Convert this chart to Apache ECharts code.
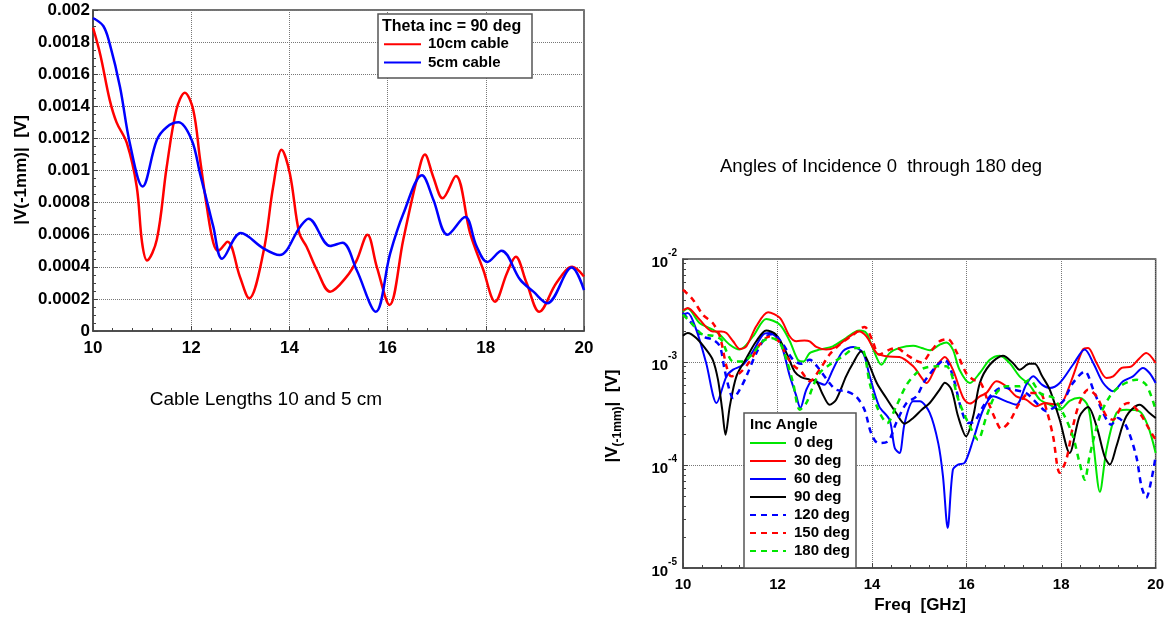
<!DOCTYPE html>
<html><head><meta charset="utf-8">
<script src="https://cdn.jsdelivr.net/npm/echarts@6/dist/echarts.min.js"></script>
<style>html,body{margin:0;padding:0;background:#fff}#c{width:1167px;height:618px}</style>
</head><body><div id="c"></div>
<script>
// ---------- Left chart: Theta inc = 90 deg ----------
const leftXTicks = ['10','12','14','16','18','20'];
const leftYTickLabels = ['0','0.0002','0.0004','0.0006','0.0008','0.001','0.0012','0.0014','0.0016','0.0018','0.002'];
const cable10 = [[10,0.00189],[10.15,0.00172],[10.34,0.00144],[10.48,0.0013],[10.69,0.00117],[10.89,0.0009],[11.0,0.00055],[11.1,0.00044],[11.3,0.00057],[11.5,0.00102],[11.7,0.00138],[11.87,0.001485],[12.04,0.00138],[12.18,0.00107],[12.32,0.00077],[12.45,0.00055],[12.55,0.0005],[12.74,0.000556],[12.99,0.00034],[13.18,0.000204],[13.47,0.00049],[13.67,0.0009],[13.84,0.00113],[14.01,0.00098],[14.2,0.00061],[14.35,0.000525],[14.56,0.00038],[14.83,0.000245],[15.17,0.00034],[15.37,0.00044],[15.59,0.0006],[15.78,0.0004],[16.04,0.000162],[16.32,0.00057],[16.59,0.00094],[16.76,0.0011],[16.93,0.00096],[17.12,0.000827],[17.39,0.000966],[17.68,0.00061],[17.95,0.00038],[18.19,0.000183],[18.43,0.00036],[18.61,0.000463],[18.83,0.0003],[19.09,0.00012],[19.44,0.0003],[19.76,0.0004],[20.0,0.00034]];
const cable5 = [[10,0.00195],[10.21,0.0019],[10.34,0.00179],[10.55,0.00152],[10.75,0.00117],[11.01,0.0009],[11.3,0.00119],[11.5,0.00127],[11.74,0.0013],[12.01,0.00119],[12.18,0.00098],[12.32,0.00081],[12.45,0.00065],[12.63,0.00045],[13.01,0.00061],[13.47,0.000515],[13.8,0.000473],[14.22,0.00065],[14.39,0.0007],[14.83,0.00053],[15.08,0.00055],[15.37,0.00038],[15.76,0.00012],[16.05,0.00048],[16.32,0.00073],[16.7,0.00097],[16.93,0.00082],[17.22,0.0006],[17.58,0.00071],[17.81,0.00053],[18.03,0.00043],[18.32,0.0005],[18.7,0.00032],[18.97,0.000245],[19.25,0.000173],[19.75,0.000395],[20.0,0.000255]];

// ---------- Right chart: angles of incidence ----------
const rightXTicks = ['10','12','14','16','18','20'];
const rightYExponents = ['-5','-4','-3','-2'];
const deg0 = [[10,3.1e-3],[10.1,3.3e-3],[10.35,2.39e-3],[10.63,2.06e-3],[10.78,1.84e-3],[10.99,1.47e-3],[11.2,1.32e-3],[11.48,1.77e-3],[11.76,2.62e-3],[12.05,2.3e-3],[12.26,1.59e-3],[12.43,1.05e-3],[12.55,1.01e-3],[12.68,1.22e-3],[12.89,1.32e-3],[13.17,1.42e-3],[13.45,1.71e-3],[13.73,2.02e-3],[13.88,1.91e-3],[14.0,1.42e-3],[14.2,9.4e-4],[14.37,1.22e-3],[14.58,1.37e-3],[14.87,1.44e-3],[15.05,1.37e-3],[15.22,1.3e-3],[15.43,1.47e-3],[15.57,1.55e-3],[15.71,1.32e-3],[15.85,8.42e-4],[16.07,6.25e-4],[16.28,7.82e-4],[16.49,1.05e-3],[16.7,1.15e-3],[16.91,9.78e-4],[17.12,7.26e-4],[17.33,6.0e-4],[17.55,4.31e-4],[17.76,3.85e-4],[17.97,3.44e-4],[18.18,4.2e-4],[18.39,4.5e-4],[18.57,3.71e-4],[18.68,1.63e-4],[18.82,5.5e-5],[18.96,1.41e-4],[19.17,3.2e-4],[19.38,3.44e-4],[19.66,3.32e-4],[19.84,2.37e-4],[20.0,1.31e-4]];
const deg30 = [[10,3.17e-3],[10.1,3.35e-3],[10.35,2.58e-3],[10.63,1.98e-3],[10.81,1.98e-3],[10.92,1.91e-3],[11.06,1.59e-3],[11.2,1.34e-3],[11.34,1.42e-3],[11.55,2.22e-3],[11.8,3.04e-3],[12.05,2.68e-3],[12.26,1.77e-3],[12.4,1.59e-3],[12.57,1.62e-3],[12.68,1.59e-3],[12.82,1.4e-3],[13.03,1.32e-3],[13.24,1.4e-3],[13.45,1.67e-3],[13.73,1.98e-3],[13.88,1.77e-3],[14.1,1.22e-3],[14.3,1.135e-3],[14.58,1.12e-3],[14.87,9.08e-4],[15.05,7.0e-4],[15.15,6.25e-4],[15.36,9.08e-4],[15.54,1.12e-3],[15.71,8.42e-4],[15.93,4.47e-4],[16.07,3.95e-4],[16.28,4.64e-4],[16.42,5.0e-4],[16.63,6.5e-4],[16.84,5.8e-4],[17.05,4.64e-4],[17.26,4.31e-4],[17.48,3.71e-4],[17.65,4.0e-4],[17.9,3.85e-4],[18.04,4.15e-4],[18.25,7.26e-4],[18.46,1.32e-3],[18.57,1.37e-3],[18.75,9.78e-4],[18.96,7.0e-4],[19.1,7.26e-4],[19.28,8.75e-4],[19.49,9.08e-4],[19.66,1.09e-3],[19.8,1.22e-3],[20.0,9.78e-4]];
const deg60 = [[10,2.88e-3],[10.1,2.99e-3],[10.28,2.06e-3],[10.49,9.78e-4],[10.71,4.0e-4],[10.92,7.26e-4],[11.06,8.42e-4],[11.27,9.4e-4],[11.48,1.27e-3],[11.69,1.84e-3],[11.83,1.91e-3],[12.05,1.59e-3],[12.26,7.26e-4],[12.4,4.64e-4],[12.48,3.57e-4],[12.61,5.39e-4],[12.75,6.74e-4],[12.89,6.25e-4],[12.99,6.0e-4],[13.17,8.42e-4],[13.38,1.27e-3],[13.6,1.4e-3],[13.81,1.22e-3],[13.95,7.26e-4],[14.15,3.71e-4],[14.37,2.75e-4],[14.48,1.46e-4],[14.58,1.31e-4],[14.69,2.56e-4],[14.87,4.15e-4],[15.01,4.15e-4],[15.22,3.2e-4],[15.4,1.63e-4],[15.5,7.8e-5],[15.6,2.45e-5],[15.71,9.0e-5],[15.82,1.01e-4],[15.96,1.05e-4],[16.14,1.76e-4],[16.35,3.44e-4],[16.56,4.64e-4],[16.84,4.15e-4],[17.05,3.85e-4],[17.26,6.0e-4],[17.41,7.26e-4],[17.6,6.0e-4],[17.76,5.6e-4],[17.97,6.25e-4],[18.25,9.4e-4],[18.5,1.32e-3],[18.68,9.78e-4],[18.89,6.25e-4],[19.1,5.2e-4],[19.31,6.5e-4],[19.52,7.26e-4],[19.73,8.75e-4],[19.87,7.82e-4],[20.0,6.25e-4]];
const deg90 = [[10,1.8e-3],[10.1,1.91e-3],[10.28,1.71e-3],[10.49,1.32e-3],[10.63,1.05e-3],[10.74,6.74e-4],[10.83,3.44e-4],[10.9,1.97e-4],[10.99,3.71e-4],[11.13,7.26e-4],[11.34,1.09e-3],[11.55,1.59e-3],[11.76,2.02e-3],[11.97,1.84e-3],[12.19,1.22e-3],[12.36,8.1e-4],[12.5,7.15e-4],[12.68,6.74e-4],[12.82,6.5e-4],[12.96,4.82e-4],[13.1,3.85e-4],[13.24,4.31e-4],[13.45,7.26e-4],[13.6,9.78e-4],[13.77,1.27e-3],[13.88,1.09e-3],[14.1,6.25e-4],[14.3,4.47e-4],[14.51,3.2e-4],[14.69,2.52e-4],[14.87,2.86e-4],[15.05,3.44e-4],[15.22,4.0e-4],[15.43,5.39e-4],[15.54,6.3e-4],[15.68,5.39e-4],[15.82,2.97e-4],[15.99,1.9e-4],[16.14,2.97e-4],[16.28,6.25e-4],[16.49,9.4e-4],[16.77,1.15e-3],[16.98,9.78e-4],[17.12,8.42e-4],[17.33,9.6e-4],[17.44,9.6e-4],[17.6,7.26e-4],[17.76,5.39e-4],[17.97,2.75e-4],[18.18,1.31e-4],[18.39,2.97e-4],[18.57,3.65e-4],[18.75,2.37e-4],[18.92,1.21e-4],[19.03,1.01e-4],[19.17,1.52e-4],[19.38,2.97e-4],[19.66,3.85e-4],[19.87,3.2e-4],[20.0,2.86e-4]];
const deg120 = [[10,2.99e-3],[10.21,2.3e-3],[10.42,1.77e-3],[10.63,1.65e-3],[10.78,1.42e-3],[10.88,8.42e-4],[10.99,5.2e-4],[11.06,4.47e-4],[11.2,5.39e-4],[11.34,7.26e-4],[11.55,1.22e-3],[11.76,1.77e-3],[11.9,1.87e-3],[12.12,1.47e-3],[12.33,1.05e-3],[12.5,9.6e-4],[12.68,1.05e-3],[12.89,8.42e-4],[13.1,6.25e-4],[13.24,5.39e-4],[13.45,5.2e-4],[13.66,4.64e-4],[13.84,3.44e-4],[13.98,2.04e-4],[14.13,1.63e-4],[14.34,1.7e-4],[14.51,2.56e-4],[14.73,4.0e-4],[14.94,4.64e-4],[15.08,6.15e-4],[15.15,6.9e-4],[15.36,9.08e-4],[15.54,1.05e-3],[15.71,7.26e-4],[15.89,3.44e-4],[16.03,2.56e-4],[16.17,2.65e-4],[16.35,3.71e-4],[16.56,5.0e-4],[16.77,5.7e-4],[16.98,5.39e-4],[17.26,5.0e-4],[17.55,3.71e-4],[17.69,3.32e-4],[17.83,3.57e-4],[18.04,4.15e-4],[18.25,6.25e-4],[18.5,8.1e-4],[18.68,5.39e-4],[18.89,3.2e-4],[19.06,2.46e-4],[19.2,2.86e-4],[19.38,2.37e-4],[19.59,1.21e-4],[19.7,6.2e-5],[19.8,4.8e-5],[19.91,7.2e-5],[20.0,1.21e-4]];
const deg150 = [[10,5.04e-3],[10.21,4.03e-3],[10.42,2.88e-3],[10.63,2.39e-3],[10.78,1.77e-3],[10.92,9.08e-4],[11.02,7.26e-4],[11.2,7.82e-4],[11.41,1.01e-3],[11.62,1.47e-3],[11.83,1.77e-3],[12.05,1.55e-3],[12.19,1.135e-3],[12.36,9.08e-4],[12.5,8.1e-4],[12.68,6.5e-4],[12.89,8.42e-4],[13.1,1.18e-3],[13.31,1.47e-3],[13.6,1.84e-3],[13.84,2.19e-3],[14.0,1.65e-3],[14.15,1.18e-3],[14.37,1.32e-3],[14.51,1.37e-3],[14.73,1.18e-3],[14.9,1.05e-3],[15.05,9.9e-4],[15.22,1.22e-3],[15.43,1.59e-3],[15.6,1.67e-3],[15.78,1.27e-3],[15.99,7.82e-4],[16.14,6.74e-4],[16.3,6.25e-4],[16.45,4.15e-4],[16.63,2.65e-4],[16.73,2.24e-4],[16.91,2.65e-4],[17.12,4.0e-4],[17.33,5.0e-4],[17.55,5.0e-4],[17.69,3.44e-4],[17.83,1.9e-4],[17.97,8.4e-5],[18.11,1.13e-4],[18.25,2.37e-4],[18.39,4.0e-4],[18.57,5.39e-4],[18.75,4.64e-4],[18.96,2.97e-4],[19.1,2.75e-4],[19.28,3.71e-4],[19.42,4.0e-4],[19.66,3.2e-4],[19.87,2.2e-4],[20.0,1.76e-4]];
const deg180 = [[10,2.88e-3],[10.21,2.3e-3],[10.42,1.84e-3],[10.63,1.8e-3],[10.81,1.65e-3],[10.92,1.27e-3],[11.06,1.01e-3],[11.27,1.01e-3],[11.48,1.22e-3],[11.69,1.59e-3],[11.87,1.71e-3],[12.05,1.53e-3],[12.19,1.05e-3],[12.33,6.25e-4],[12.47,3.44e-4],[12.61,4.0e-4],[12.75,5.8e-4],[12.89,7.82e-4],[13.1,9.4e-4],[13.38,1.135e-3],[13.66,1.37e-3],[13.81,1.32e-3],[13.95,6.25e-4],[14.13,3.44e-4],[14.32,2.56e-4],[14.51,3.71e-4],[14.73,6.0e-4],[14.94,7.82e-4],[15.11,8.75e-4],[15.36,9.08e-4],[15.57,9.08e-4],[15.85,4.0e-4],[16.07,2.37e-4],[16.24,1.76e-4],[16.42,2.97e-4],[16.63,5.0e-4],[16.84,5.8e-4],[17.12,5.8e-4],[17.33,6.74e-4],[17.55,5.0e-4],[17.69,4.7e-4],[17.83,4.5e-4],[18.04,3.2e-4],[18.25,1.9e-4],[18.39,1.05e-4],[18.5,7.2e-5],[18.6,1.21e-4],[18.82,2.97e-4],[19.03,4.64e-4],[19.24,5.8e-4],[19.45,6.5e-4],[19.59,6.74e-4],[19.8,6.0e-4],[20.0,3.44e-4]];

const FONT = 'Liberation Sans, Arial, Helvetica, sans-serif';
const chart = echarts.init(document.getElementById('c'), null, {renderer: 'canvas'});

const frame = '#444';
function xAxisCfg(gi, fs, labels) {
  return {
    type: 'value', gridIndex: gi, min: 10, max: 20, interval: 2,
    axisLine: {show: true, onZero: false, lineStyle: {color: frame, width: 1.5}},
    axisTick: {show: true, inside: true, length: 5, lineStyle: {color: frame}},
    minorTick: {show: true, splitNumber: 5, length: 3, lineStyle: {color: frame}},
    splitLine: {show: true, lineStyle: {type: 'dotted', color: '#777', width: 1}},
    axisLabel: {fontFamily: FONT, fontSize: fs, fontWeight: 'bold', color: '#000', margin: 9,
      formatter: v => labels[Math.round((v - 10) / 2)]}
  };
}

const rightSeriesDefs = [
  {name: '0 deg', data: deg0, color: '#00e600', type: 'solid'},
  {name: '30 deg', data: deg30, color: '#ff0000', type: 'solid'},
  {name: '60 deg', data: deg60, color: '#0000ff', type: 'solid'},
  {name: '90 deg', data: deg90, color: '#000000', type: 'solid'},
  {name: '120 deg', data: deg120, color: '#0000ff', type: [6, 5]},
  {name: '150 deg', data: deg150, color: '#ff0000', type: [6, 5]},
  {name: '180 deg', data: deg180, color: '#00e600', type: [6, 5]}
];

const series = [
  {name: '10cm cable', type: 'line', xAxisIndex: 0, yAxisIndex: 0, data: cable10, showSymbol: false, symbol: 'none', smooth: 0.35,
    lineStyle: {color: '#ff0000', width: 2.5}, itemStyle: {color: '#ff0000'}},
  {name: '5cm cable', type: 'line', xAxisIndex: 0, yAxisIndex: 0, data: cable5, showSymbol: false, symbol: 'none', smooth: 0.35,
    lineStyle: {color: '#0000ff', width: 2.5}, itemStyle: {color: '#0000ff'}}
].concat(rightSeriesDefs.map(d => ({
  name: d.name, type: 'line', xAxisIndex: 1, yAxisIndex: 1, data: d.data, showSymbol: false, symbol: 'none', smooth: 0.3,
  lineStyle: {color: d.color, width: d.type === 'solid' ? 2 : 2.5, type: d.type}, itemStyle: {color: d.color}
})));

const legendText = {fontFamily: FONT, fontSize: 15, fontWeight: 'bold', color: '#000'};

const option = {
  backgroundColor: '#fff',
  animation: false,
  grid: [
    {left: 93, top: 10, width: 491, height: 321, show: true, borderColor: frame, borderWidth: 1.5, backgroundColor: 'transparent'},
    {left: 683, top: 259, width: 473, height: 309, show: true, borderColor: frame, borderWidth: 1.5, backgroundColor: 'transparent'}
  ],
  xAxis: [xAxisCfg(0, 17, leftXTicks), xAxisCfg(1, 15, rightXTicks)],
  yAxis: [
    {type: 'value', gridIndex: 0, min: 0, max: 0.002, interval: 0.0002,
      axisLine: {show: true, lineStyle: {color: frame, width: 1.5}},
      axisTick: {show: true, inside: true, length: 5, lineStyle: {color: frame}},
      minorTick: {show: true, splitNumber: 4, length: 3, lineStyle: {color: frame}},
      splitLine: {show: true, lineStyle: {type: 'dotted', color: '#777', width: 1}},
      axisLabel: {fontFamily: FONT, fontSize: 17, fontWeight: 'bold', color: '#000', margin: 3,
        formatter: v => leftYTickLabels[Math.round(v / 0.0002)]}},
    {type: 'log', logBase: 10, gridIndex: 1, min: 1e-5, max: 1e-2,
      axisLine: {show: true, lineStyle: {color: frame, width: 1.5}},
      axisTick: {show: true, inside: true, length: 5, lineStyle: {color: frame}},
      minorTick: {show: true, splitNumber: 9, length: 3, lineStyle: {color: frame}},
      splitLine: {show: true, lineStyle: {type: 'dotted', color: '#777', width: 1}},
      axisLabel: {color: '#000', margin: 6,
        formatter: v => {
          const e = Math.round(Math.log10(v));
          const idx = e + 5;
          return '{b|10}{s|' + (rightYExponents[idx] !== undefined ? rightYExponents[idx] : e) + '}';
        },
        rich: {
          b: {fontFamily: FONT, fontSize: 15, fontWeight: 'bold', color: '#000', verticalAlign: 'bottom', lineHeight: 22},
          s: {fontFamily: FONT, fontSize: 10, fontWeight: 'bold', color: '#000', verticalAlign: 'top', lineHeight: 22}
        }}}
  ],
  legend: [
    {data: ['10cm cable', '5cm cable'], orient: 'vertical', left: 383, top: 35, padding: 0, itemGap: 0,
      itemWidth: 37, itemHeight: 10, selectedMode: false, z: 60, icon: undefined,
      itemStyle: {opacity: 0},
      textStyle: Object.assign({lineHeight: 18.4, padding: [0, 0, 0, 2]}, legendText)},
    {data: rightSeriesDefs.map(d => d.name), orient: 'vertical', left: 749, top: 434, padding: 0, itemGap: 0,
      itemWidth: 36, itemHeight: 10, selectedMode: false, z: 60,
      itemStyle: {opacity: 0},
      textStyle: Object.assign({lineHeight: 18, padding: [0, 0, 0, 3]}, legendText)}
  ],
  graphic: [
    {type: 'rect', z: 50, shape: {x: 378, y: 14, width: 154, height: 64},
      style: {fill: '#fff', stroke: '#555', lineWidth: 1.5}},
    {type: 'text', z: 60, x: 382, y: 27, style: {text: 'Theta inc = 90 deg', font: 'bold 16px ' + FONT, fill: '#000', textAlign: 'left', textVerticalAlign: 'middle'}},
    {type: 'rect', z: 50, shape: {x: 744, y: 413, width: 112, height: 155},
      style: {fill: '#fff', stroke: '#555', lineWidth: 1.5}},
    {type: 'text', z: 60, x: 750, y: 425, style: {text: 'Inc Angle', font: 'bold 15px ' + FONT, fill: '#000', textAlign: 'left', textVerticalAlign: 'middle'}},
    {type: 'text', z: 60, x: 21, y: 170, rotation: Math.PI / 2,
      style: {text: '|V(-1mm)|  [V]', font: 'bold 17px ' + FONT, fill: '#000', textAlign: 'center', textVerticalAlign: 'middle'}},
    {type: 'text', z: 60, x: 266, y: 400,
      style: {text: 'Cable Lengths 10 and 5 cm', font: '19px ' + FONT, fill: '#000', textAlign: 'center', textVerticalAlign: 'middle'}},
    {type: 'text', z: 60, x: 881, y: 167,
      style: {text: 'Angles of Incidence 0  through 180 deg', font: '18.5px ' + FONT, fill: '#000', textAlign: 'center', textVerticalAlign: 'middle'}},
    {type: 'text', z: 60, x: 920, y: 605,
      style: {text: 'Freq  [GHz]', font: 'bold 17px ' + FONT, fill: '#000', textAlign: 'center', textVerticalAlign: 'middle'}},
    {type: 'text', z: 60, x: 614, y: 416, rotation: Math.PI / 2,
      style: {text: '{a||V}{b|(-1mm)}{a||  [V]}', align: 'center', verticalAlign: 'middle',
        rich: {
          a: {fontFamily: FONT, fontSize: 17, fontWeight: 'bold', fill: '#000', color: '#000', verticalAlign: 'top', lineHeight: 20},
          b: {fontFamily: FONT, fontSize: 12, fontWeight: 'bold', fill: '#000', color: '#000', verticalAlign: 'bottom', lineHeight: 20}
        }}}
  ],
  series: series
};
chart.setOption(option);
</script></body></html>
